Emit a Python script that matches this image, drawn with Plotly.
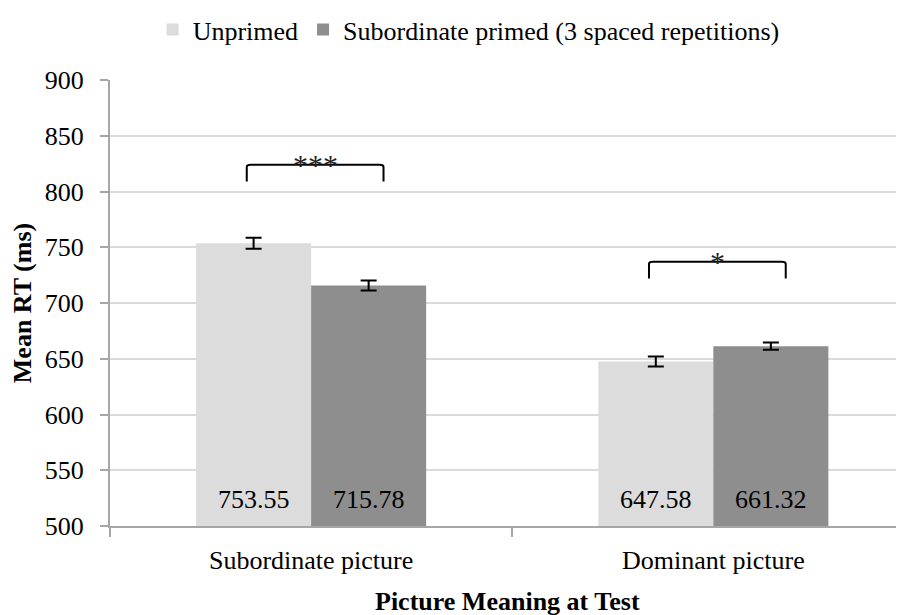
import plotly.graph_objects as go

categories = ["Subordinate picture", "Dominant picture"]
series_names = ["Unprimed", "Subordinate primed (3 spaced repetitions)"]
unprimed = [753.55, 647.58]
primed = [715.78, 661.32]
unprimed_err = [5.0, 4.5]
primed_err = [4.5, 3.3]
y_ticks = [500, 550, 600, 650, 700, 750, 800, 850, 900]
sig_labels = ["***", "*"]
sig_bracket_y = [824, 737]
x_title = "Picture Meaning at Test"
y_title = "Mean RT (ms)"

colors = ["#DCDCDC", "#8E8E8E"]
FONT = "Liberation Serif"
FS = 26
W = 0.286  # bar width in category units

xs = list(range(len(categories)))
x_un = [x - W / 2 for x in xs]
x_pr = [x + W / 2 for x in xs]

fig = go.Figure()
for name, xv, yv, ev, c in [
    (series_names[0], x_un, unprimed, unprimed_err, colors[0]),
    (series_names[1], x_pr, primed, primed_err, colors[1]),
]:
    fig.add_trace(go.Bar(
        name=name, x=xv, y=[v - 500 for v in yv], base=500, width=W,
        marker=dict(color=c, line=dict(width=0)),
        error_y=dict(type="data", array=ev, color="black", thickness=2, width=8, visible=True),
        hoverinfo="skip",
    ))

# value labels at bar base
for xv, yv in [(x_un, unprimed), (x_pr, primed)]:
    for x, v in zip(xv, yv):
        fig.add_annotation(x=x, y=500, text=f"{v:.2f}", showarrow=False,
                           yanchor="bottom", yshift=10,
                           font=dict(family=FONT, size=FS, color="black"))

# significance brackets
for i, (lab, by) in enumerate(zip(sig_labels, sig_bracket_y)):
    x0 = xs[i] - 0.16
    x1 = xs[i] + 0.18
    fig.add_shape(type="path",
                  path=f"M {x0},{by-15} L {x0},{by-2} Q {x0},{by} {x0+0.01},{by} L {x1-0.01},{by} Q {x1},{by} {x1},{by-2} L {x1},{by-15}",
                  line=dict(color="black", width=2), xref="x", yref="y")
    fig.add_annotation(x=(x0 + x1) / 2, y=by, text=lab, showarrow=False,
                       yanchor="middle", yshift=0,
                       font=dict(family=FONT, size=30, color="#222"))

# x-axis title (placed just below the category labels)
fig.add_annotation(x=0.5, xref="paper", y=-0.17, yref="paper", yanchor="middle",
                   text=f"<b>{x_title}</b>", showarrow=False,
                   font=dict(family=FONT, size=FS, color="black"))

# page body has an 8px margin: compensate so the plot area lands where the reference has it
fig.update_layout(
    width=904, height=615,
    margin=dict(l=102, r=8, t=72, b=97, autoexpand=False),
    paper_bgcolor="white", plot_bgcolor="white",
    barmode="overlay",
    font=dict(family=FONT, size=FS, color="black"),
    showlegend=True,
    legend=dict(orientation="h", x=0.16, xref="container", xanchor="left",
                y=0.965, yref="container", yanchor="middle",
                font=dict(family=FONT, size=FS, color="black"),
                itemclick=False, itemdoubleclick=False, traceorder="normal"),
    xaxis=dict(
        range=[-0.5, 1.474], tickvals=xs, ticktext=categories, ticks="",
        showgrid=False, zeroline=False, automargin=False,
        showline=True, linecolor="#A6A6A6", linewidth=2,
        ticklabelstandoff=10,
        tickfont=dict(family=FONT, size=FS, color="black"),
        minor=dict(ticks="outside", tick0=-0.5, dtick=1, ticklen=9, tickwidth=2,
                   tickcolor="#A6A6A6", showgrid=False),
    ),
    yaxis=dict(
        range=[500, 900], tickvals=y_ticks, ticks="outside", ticklen=8, tickwidth=2,
        tickcolor="#A6A6A6", showline=True, linecolor="#A6A6A6", linewidth=2,
        showgrid=True, gridcolor="#DADADA", gridwidth=2, zeroline=False,
        automargin=False,
        ticklabelstandoff=11,
        tickfont=dict(family=FONT, size=FS, color="black"),
        title=dict(text=f"<b>{y_title}</b>", standoff=16,
                   font=dict(family=FONT, size=FS, color="black")),
    ),
)

fig.write_html("out.html")
